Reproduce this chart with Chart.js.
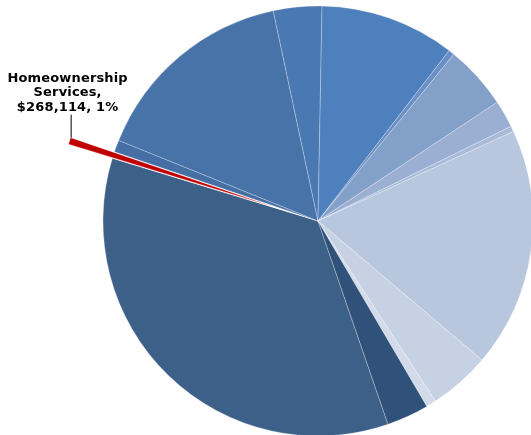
<!DOCTYPE html>
<html lang="en">
<head>
    <meta charset="UTF-8">
    <title>Budget by program</title>
    <style>
        html, body { margin: 0; padding: 0; background: #fff; overflow: hidden; }
        .box-grafico { position: relative; width: 531px; height: 435px; }
    </style>
</head>
<body>
    <div class="box-grafico">
        <canvas id="GraficoPizza"></canvas>
    </div>
<script src="https://cdn.jsdelivr.net/npm/chart.js"></script>
<script>

    // slices in clockwise order, starting at the lower-left large slice
    const categorias = [
        'Program 1', 'Homeownership Services', 'Program 2', 'Program 3', 'Program 4',
        'Program 5', 'Program 6', 'Program 7', 'Program 8', 'Program 9',
        'Program 10', 'Program 11', 'Program 12', 'Program 13'
    ];
    const valores = [
        18760000, 268114, 484100, 8334000, 1951300,
        5436800, 238300, 2576900, 1102200, 223400,
        9667000, 2472600, 402200, 1698100
    ];
    const cores = [
        '#3d6089', '#c00000', '#4670a5', '#4873a8', '#4a78b2',
        '#4d80bd', '#6a90c6', '#83a0c9', '#9aafd1', '#aabbd9',
        '#b8c6de', '#c6d1e3', '#d3dbea', '#30527a'
    ];
    const destaque = 'Homeownership Services';
    const explosao = 46;

    const idxDestaque = categorias.indexOf(destaque);
    const total = valores.reduce((a, b) => a + b, 0);
    // the highlighted slice leaves a white gap and is redrawn pulled out
    const coresBase = cores.map((c, i) => i === idxDestaque ? '#ffffff' : c);

    const rotuloPlugin = {
        id: 'rotuloDestaque',
        afterDatasetsDraw(chart) {
            const arc = chart.getDatasetMeta(0).data[idxDestaque];
            const p = arc.getProps(['x', 'y', 'startAngle', 'endAngle', 'outerRadius'], true);
            const meio = (p.startAngle + p.endAngle) / 2;
            const dx = Math.cos(meio) * explosao;
            const dy = Math.sin(meio) * explosao;
            const ctx = chart.ctx;

            // pulled out slice
            ctx.save();
            ctx.translate(dx, dy);
            const corAntiga = arc.options.backgroundColor;
            arc.options.backgroundColor = cores[idxDestaque];
            arc.draw(ctx);
            arc.options.backgroundColor = corAntiga;
            ctx.restore();

            const cx = p.x + dx + Math.cos(p.endAngle) * p.outerRadius;
            const cy = p.y + dy + Math.sin(p.endAngle) * p.outerRadius;

            ctx.save();
            ctx.strokeStyle = '#000';
            ctx.lineWidth = 1;
            ctx.beginPath();
            ctx.moveTo(cx + 0.5, cy);
            ctx.lineTo(cx + 0.5, cy - 23);
            ctx.stroke();

            const pct = Math.round(valores[idxDestaque] / total * 100);
            const linhas = [
                'Homeownership',
                'Services,',
                '$' + valores[idxDestaque].toLocaleString('en-US') + ', ' + pct + '%'
            ];
            ctx.fillStyle = '#000';
            ctx.font = 'bold 13px "DejaVu Sans", Verdana, sans-serif';
            ctx.letterSpacing = '0.15px';
            ctx.textAlign = 'center';
            ctx.textBaseline = 'alphabetic';
            linhas.forEach((t, i) => {
                ctx.fillText(t, cx - 3, cy - 56 + i * 14.7);
            });
            ctx.restore();
        }
    };

    new Chart(document.getElementById('GraficoPizza'), {
        type: 'pie',
        data: {
            labels: categorias,
            datasets: [{
                data: valores,
                backgroundColor: coresBase,
                borderColor: 'rgba(255,255,255,0.45)',
                borderWidth: 0.6,
                hoverOffset: 0,
                clip: false
            }]
        },
        options: {
            responsive: true,
            maintainAspectRatio: false,
            animation: false,
            rotation: 161,
            radius: 215,
            layout: {
                padding: { left: 105, top: 7, right: 0, bottom: 0 }
            },
            plugins: {
                legend: { display: false },
                tooltip: { enabled: false }
            }
        },
        plugins: [rotuloPlugin]
    });
</script>
</body>
</html>
